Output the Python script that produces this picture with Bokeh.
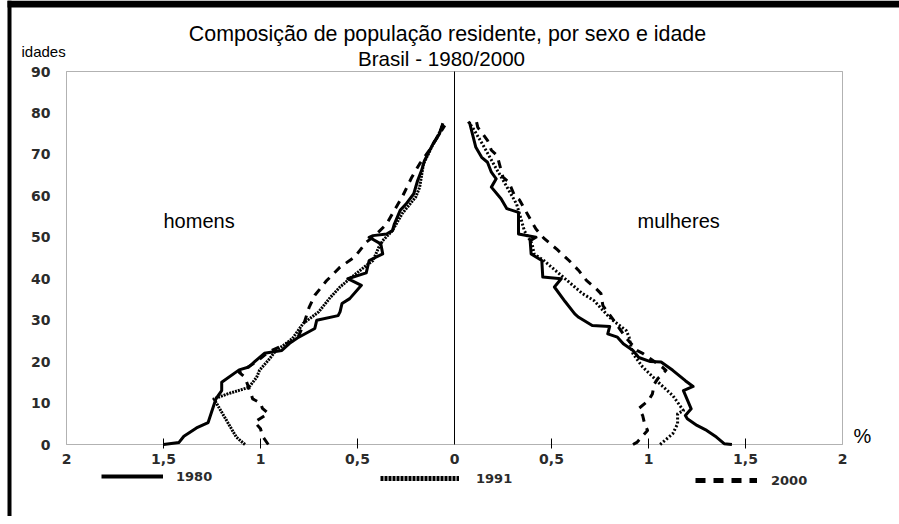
from bokeh.plotting import figure
from bokeh.models import (FixedTicker, Label, Legend, LegendItem, BoxAnnotation, LinearAxis, Range1d)
from bokeh.embed import file_html
from bokeh.resources import INLINE

# ---------------- data (percent of population, by single age) ----------------
men_1980_age = [0, 0.5, 2, 4, 5.3, 11, 13, 15, 18, 18.7, 20, 22, 22.7, 24.4, 25.7, 28, 30, 31.1, 32, 34,
                35.2, 38.4, 40, 41.4, 44.4, 46, 48.4, 50, 50.4, 50.8, 51.6, 53.2, 56.5, 58, 60.5, 63.7,
                66.1, 68.5, 72.6, 75, 77.5]
men_1980_val = [1.50, 1.42, 1.395, 1.33, 1.27, 1.23, 1.20, 1.20, 1.11, 1.06, 1.03, 0.98, 0.89, 0.85, 0.81,
                0.72, 0.71, 0.60, 0.59, 0.58, 0.54, 0.48, 0.55, 0.455, 0.44, 0.37, 0.38, 0.44, 0.42, 0.35,
                0.32, 0.31, 0.28, 0.25, 0.21, 0.19, 0.17, 0.155, 0.11, 0.077, 0.06]

men_1991_age = [0, 1.8, 4.6, 7, 10.2, 11, 12.2, 13.8, 16.2, 17.9, 20.3, 22.7, 24.3, 25.6, 29.2, 32, 35.5,
                38, 40.4, 43, 44.4, 47.6, 49.2, 51.6, 55.7, 59.7, 62, 67.7, 72.5, 75, 77.3]
men_1991_val = [1.08, 1.125, 1.16, 1.19, 1.23, 1.24, 1.17, 1.06, 1.02, 1.005, 0.96, 0.92, 0.87, 0.835, 0.78,
                0.70, 0.64, 0.59, 0.53, 0.46, 0.42, 0.39, 0.37, 0.32, 0.27, 0.20, 0.18, 0.16, 0.11, 0.08, 0.06]

men_2000_age = [0, 2, 3.8, 5.4, 7.5, 8.7, 10, 11, 16.2, 17.4, 20, 22.3, 25.5, 29.3, 33, 36, 39.5, 42.8,
                45.2, 48.8, 50.4, 53.2, 56.5, 59.7, 64.5, 67.7, 71, 74, 77]
men_2000_val = [0.96, 0.99, 1.00, 1.03, 0.96, 0.99, 1.00, 1.04, 1.08, 1.11, 1.02, 0.96, 0.81, 0.775, 0.75,
                0.72, 0.66, 0.59, 0.515, 0.455, 0.41, 0.35, 0.31, 0.27, 0.22, 0.18, 0.13, 0.09, 0.05]

women_1980_age = [0, 0.2, 1.8, 3.4, 4.6, 6.2, 7, 8.6, 13, 14, 15.4, 17.9, 19.9, 20, 21, 22.7, 24.3, 25.9,
                  26.7, 28.5, 28.7, 30.7, 31.5, 34.5, 38, 40, 40.4, 44.4, 46, 49.2, 50, 50.8, 56, 56.9,
                  59.3, 62.1, 64.1, 65.7, 68.1, 69.3, 71.7, 77.8]
women_1980_val = [1.43, 1.39, 1.35, 1.30, 1.25, 1.20, 1.19, 1.22, 1.18, 1.23, 1.19, 1.125, 1.065, 1.01,
                  0.95, 0.92, 0.87, 0.84, 0.79, 0.80, 0.71, 0.64, 0.62, 0.57, 0.515, 0.55, 0.455, 0.45,
                  0.395, 0.39, 0.42, 0.33, 0.33, 0.27, 0.24, 0.19, 0.215, 0.19, 0.17, 0.14, 0.11, 0.077]

women_1991_age = [0, 2.6, 5, 7.4, 8.2, 11.8, 14.6, 18.7, 21.9, 23.5, 25.9, 27.5, 30, 31.1, 34.7, 36.4, 38,
                  41.2, 44.4, 46, 48.4, 51.6, 55.7, 58, 59.7, 63, 67, 72, 76, 78]
women_1991_val = [1.06, 1.125, 1.15, 1.15, 1.18, 1.125, 1.06, 0.97, 0.92, 0.91, 0.90, 0.885, 0.815, 0.79,
                  0.72, 0.66, 0.62, 0.54, 0.46, 0.41, 0.40, 0.36, 0.335, 0.32, 0.30, 0.26, 0.21, 0.15,
                  0.10, 0.07]

women_2000_age = [0, 0.5, 3.4, 5, 7, 8.7, 10.6, 12.2, 14.6, 16, 17.9, 18.7, 22, 22.7, 26, 30, 33.5, 36.4,
                  37.6, 39.6, 42, 44.4, 47, 49.8, 52, 54, 59, 60, 63.3, 64.5, 69.7, 71, 73.4, 75, 76.5, 78.6]
women_2000_val = [0.92, 0.94, 0.995, 0.98, 0.97, 0.95, 1.00, 1.02, 1.03, 1.05, 1.09, 1.07, 0.97, 0.94,
                  0.88, 0.82, 0.765, 0.755, 0.73, 0.68, 0.64, 0.59, 0.53, 0.46, 0.42, 0.395, 0.335, 0.31,
                  0.28, 0.25, 0.22, 0.19, 0.17, 0.145, 0.12, 0.11]

x_ticks = [-2, -1.5, -1, -0.5, 0, 0.5, 1, 1.5, 2]
x_tick_labels = ["2", "1,5", "1", "0,5", "0", "0,5", "1", "1,5", "2"]
y_ticks = [0, 10, 20, 30, 40, 50, 60, 70, 80, 90]
years = ["1980", "1991", "2000"]

TITLE1 = "Composição de população residente, por sexo e idade"
TITLE2 = "Brasil - 1980/2000"

# ---------------- layout constants (pixels) ----------------
W, H = 899, 516
BOX_L, BOX_R, BOX_T, BOX_B = 66, 842, 71, 444      # plot box in canvas pixels
X_MIN, X_MAX = x_ticks[0], x_ticks[-1]
Y_MIN, Y_MAX = y_ticks[0], y_ticks[-1]
ppx = (BOX_R - BOX_L) / (X_MAX - X_MIN)
ppy = (BOX_B - BOX_T) / (Y_MAX - Y_MIN)
x_range = Range1d(X_MIN - BOX_L / ppx, X_MAX + (W - BOX_R) / ppx)
y_range = Range1d(Y_MIN - (H - BOX_B) / ppy, Y_MAX + BOX_T / ppy)

p = figure(width=W, height=H, x_range=x_range, y_range=y_range,
           output_backend="svg", toolbar_location=None,
           x_axis_location=None, y_axis_location=None,
           min_border=0)
p.title.visible = False
p.grid.visible = False
p.background_fill_color = "white"
p.border_fill_color = "white"
p.outline_line_color = None

# plot box
p.add_layout(BoxAnnotation(left=X_MIN, right=X_MAX, bottom=Y_MIN, top=Y_MAX,
                           fill_color=None, fill_alpha=0, line_color="black", line_width=1))

# axes fixed on the box
xa = LinearAxis(fixed_location=Y_MIN)
xa.ticker = FixedTicker(ticks=x_ticks, minor_ticks=[t for t in x_ticks if abs(t) not in (0, 2)])
xa.major_label_overrides = {t: s for t, s in zip(x_ticks, x_tick_labels)}
xa.major_tick_in = 0
xa.major_tick_out = 0
xa.minor_tick_in = 6
xa.minor_tick_out = 4
xa.minor_tick_line_color = "black"
xa.axis_line_color = None
xa.major_label_standoff = 5
xa.major_label_text_font = "DejaVu Sans"
xa.major_label_text_font_style = "bold"
xa.major_label_text_font_size = "14px"
xa.major_label_text_color = "#2b2b2b"
p.add_layout(xa, "below")

ya = LinearAxis(fixed_location=X_MIN)
ya.ticker = FixedTicker(ticks=y_ticks)
ya.major_tick_in = 0
ya.major_tick_out = 0
ya.minor_tick_line_color = None
ya.axis_line_color = None
ya.major_label_standoff = 16
ya.major_label_text_font = "DejaVu Sans"
ya.major_label_text_font_style = "bold"
ya.major_label_text_font_size = "14px"
ya.major_label_text_color = "#2b2b2b"
p.add_layout(ya, "left")

# central line
p.segment(x0=[0], y0=[Y_MIN], x1=[0], y1=[Y_MAX], line_color="black", line_width=1)

# series (men drawn on the negative side)
men_styles = {"1980": "solid", "1991": "2 1", "2000": "8 7"}
women_styles = {"1980": "solid", "1991": "2 2", "2000": "8 7"}
men = {"1980": (men_1980_age, men_1980_val), "1991": (men_1991_age, men_1991_val),
       "2000": (men_2000_age, men_2000_val)}
women = {"1980": (women_1980_age, women_1980_val), "1991": (women_1991_age, women_1991_val),
         "2000": (women_2000_age, women_2000_val)}
for yr in years:
    a, v = men[yr]
    p.line(x=[-x for x in v], y=a, line_color="black", line_width=3, line_join="round",
           line_dash=men_styles[yr])
    a, v = women[yr]
    p.line(x=v, y=a, line_color="black", line_width=3, line_join="round",
           line_dash=women_styles[yr])

# legend (separate items placed below the axis); location in screen px from bottom-left
NAN = float("nan")
leg_specs = [
    ("1980", dict(line_dash="solid", line_width=4), 101, 32, 62, 13),
    ("1991", dict(line_dash="3 1", line_width=5), 380, 30, 79, 17),
    ("2000", dict(line_dash="10 8", line_width=5), 695, 28, 62, 14),
]
for lab, st, lx, ly, gw, so in leg_specs:
    r = p.line(x=[NAN], y=[NAN], line_color="black", **st)
    lg = Legend(items=[LegendItem(label=lab, renderers=[r])], location=(lx, ly),
                orientation="horizontal", glyph_width=gw, glyph_height=16, label_height=16,
                label_standoff=so, padding=0, margin=0, spacing=0,
                border_line_color=None, background_fill_alpha=0,
                label_text_font="DejaVu Sans", label_text_font_style="bold",
                label_text_font_size="13px", label_text_color="#2b2b2b")
    p.add_layout(lg, "center")

# texts (screen px: x from left, y up from bottom; baseline given in page px from top)
def add_label(text, x, base_y, size, align="left", font="Liberation Sans"):
    fs = float(size.replace("px", ""))
    p.add_layout(Label(x=x, y=H - base_y + 0.4 * fs, x_units="screen", y_units="screen", text=text,
                       text_font=font, text_font_size=size, text_align=align,
                       text_baseline="alphabetic", text_color="black"))

add_label(TITLE1, 447, 42, "21.4px", align="center")
add_label(TITLE2, 441, 66, "20.6px", align="center")
add_label("idades", 21, 57, "15px")
add_label("homens", 163, 228, "20px")
add_label("mulheres", 637, 228, "20px")
add_label("%", 853, 443, "20px")

# page border (top and left edges)
p.add_layout(BoxAnnotation(left=7, right=11, bottom=0, top=H,
                           left_units="screen", right_units="screen",
                           bottom_units="screen", top_units="screen",
                           fill_color="black", fill_alpha=1, line_color=None))
p.add_layout(BoxAnnotation(left=7, right=W, bottom=H - 7, top=H,
                           left_units="screen", right_units="screen",
                           bottom_units="screen", top_units="screen",
                           fill_color="black", fill_alpha=1, line_color=None))

open("out.html", "w").write(file_html(p, INLINE))
